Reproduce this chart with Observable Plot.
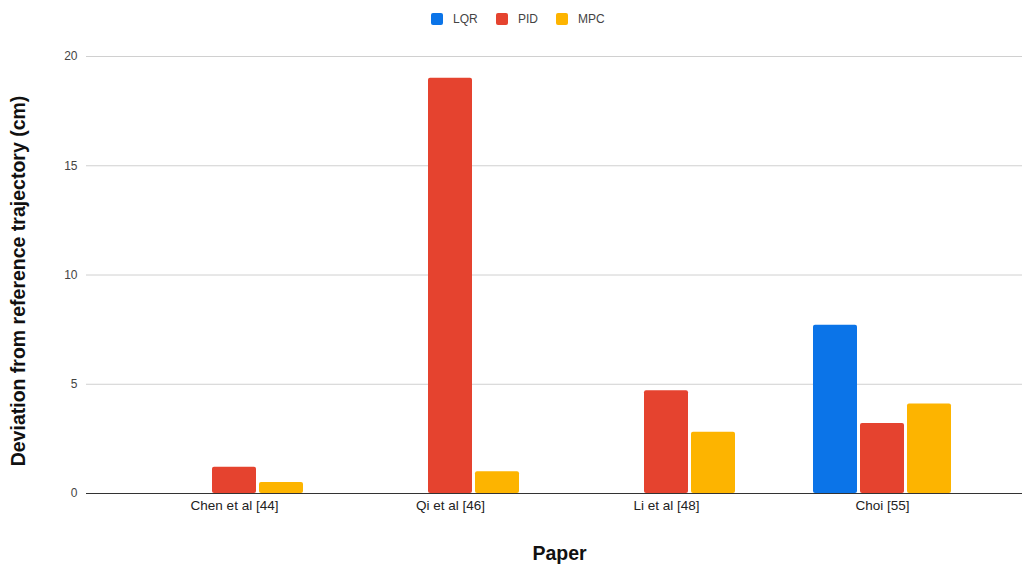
<!DOCTYPE html>
<html>
<head>
<meta charset="utf-8">
<script src="https://cdn.jsdelivr.net/npm/d3@7"></script>
<script src="https://cdn.jsdelivr.net/npm/@observablehq/plot@0.6"></script>
<style>
  html, body { margin: 0; padding: 0; background: #fff; }
  body { width: 1023px; height: 566px; overflow: hidden; font-family: "Liberation Sans", Arial, sans-serif; }
  #legend { position: relative; height: 36px; }
  .item { position: absolute; top: 12px; display: flex; align-items: center; font-size: 12px; color: #444; }
  .swatch { width: 12px; height: 12px; border-radius: 2px; margin-right: 10px; }
  g[aria-label="x-axis tick label"] text { fill: #222; font-size: 13.5px; }
</style>
</head>
<body>
<div id="legend"></div>
<div id="chart"></div>
<script>
// Tracking deviation reported by each paper, per controller (cm)
const papers = ["Chen et al [44]", "Qi et al [46]", "Li et al [48]", "Choi [55]"];
const methods = ["LQR", "PID", "MPC"];
const lqrValues = [null, null, null, 7.7];
const pidValues = [1.2, 19, 4.7, 3.2];
const mpcValues = [0.5, 1, 2.8, 4.1];
const yTicks = [0, 5, 10, 15, 20];

const colors = {LQR: "#0b74e8", PID: "#e5432f", MPC: "#fdb400"};
const offsets = {LQR: -47, PID: 0, MPC: 47};

const series = {LQR: lqrValues, PID: pidValues, MPC: mpcValues};
const rows = [];
for (const m of methods) {
  papers.forEach((p, i) => {
    const v = series[m][i];
    if (v != null) rows.push({paper: p, method: m, value: v});
  });
}

// legend
const legend = document.getElementById("legend");
const legendLeft = {LQR: 431, PID: 496, MPC: 556};
for (const m of methods) {
  const item = document.createElement("div");
  item.className = "item";
  item.style.left = legendLeft[m] + "px";
  item.innerHTML = `<div class="swatch" style="background:${colors[m]}"></div><span>${m}</span>`;
  legend.appendChild(item);
}

const barInset = 86;
const bars = methods.map(m => Plot.barY(rows.filter(d => d.method === m), {
  x: "paper", y: "value", fill: colors[m], dx: offsets[m],
  insetLeft: barInset, insetRight: barInset, rx: 2
}));

const chart = Plot.plot({
  width: 1023,
  height: 530,
  marginTop: 20,
  marginBottom: 73,
  marginLeft: 86,
  marginRight: 1,
  style: {fontFamily: "'Liberation Sans', Arial, sans-serif", fontSize: "12px", color: "#444", background: "#fff"},
  x: {type: "band", domain: papers, range: [124, 991], padding: 0, tickSize: 0, tickPadding: 7, label: null},
  y: {domain: [0, 20], ticks: yTicks, tickSize: 0, tickPadding: 9, label: null},
  marks: [
    Plot.ruleY(yTicks.filter(t => t > 0), {stroke: "#d0d0d0"}),
    ...bars,
    Plot.ruleY([0], {stroke: "#333"}),
    Plot.text(["Paper"], {frameAnchor: "bottom", dy: 60, dx: 5, fontSize: 19.5, fontWeight: "bold", fill: "#111", lineAnchor: "middle"}),
    Plot.text(["Deviation from reference trajectory (cm)"], {frameAnchor: "left", dx: -68, dy: 6, rotate: -90, textAnchor: "middle", fontSize: 19.5, fontWeight: "bold", fill: "#111", lineAnchor: "middle"})
  ]
});
document.getElementById("chart").appendChild(chart);
</script>
</body>
</html>
